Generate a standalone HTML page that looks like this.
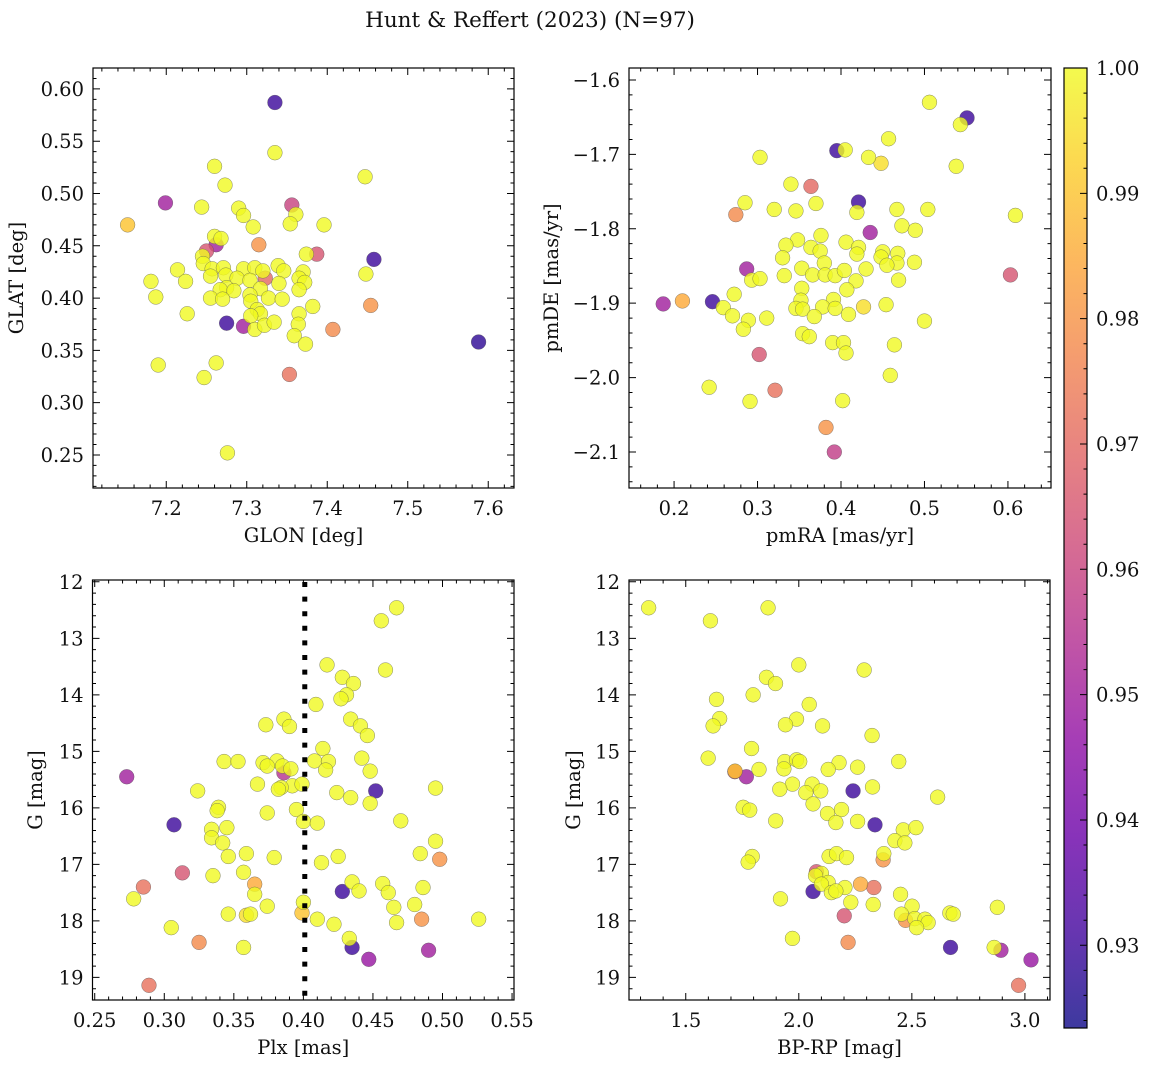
<!DOCTYPE html>
<html><head><meta charset="utf-8"><title>Hunt & Reffert (2023)</title>
<style>
html,body{margin:0;padding:0;background:#fff;}
svg{display:block;font-family:"DejaVu Serif","Liberation Serif",serif;}
</style></head>
<body>
<svg id="fig" width="1149" height="1067" viewBox="0 0 1149 1067" xmlns="http://www.w3.org/2000/svg">
<text x="530" y="27" text-anchor="middle" font-size="21.5" fill="#111">Hunt &amp; Reffert (2023) (N=97)</text>
</svg>
<script>
// ---- Panel 1: GLON vs GLAT ----
var p1Glon=[7.335,7.335,7.260,7.273,7.447,7.199,7.356,7.244,7.290,7.296,7.361,7.354,7.152,7.308,7.396,7.315,7.260,7.268,7.262,7.250,7.245,7.374,7.387,7.458,7.246,7.214,7.257,7.255,7.271,7.274,7.296,7.310,7.320,7.339,7.346,7.370,7.365,7.372,7.448,7.181,7.224,7.288,7.304,7.323,7.340,7.275,7.267,7.284,7.317,7.365,7.187,7.255,7.270,7.304,7.305,7.327,7.344,7.382,7.226,7.313,7.317,7.365,7.305,7.454,7.275,7.296,7.310,7.322,7.334,7.364,7.359,7.407,7.373,7.588,7.190,7.262,7.247,7.353,7.276];
var p1Glat=[0.587,0.539,0.526,0.508,0.516,0.491,0.489,0.487,0.486,0.479,0.480,0.471,0.470,0.468,0.470,0.451,0.459,0.457,0.451,0.445,0.440,0.442,0.442,0.437,0.433,0.427,0.428,0.421,0.429,0.422,0.428,0.429,0.426,0.431,0.426,0.425,0.419,0.415,0.423,0.416,0.416,0.419,0.417,0.419,0.414,0.410,0.408,0.407,0.409,0.408,0.401,0.400,0.399,0.403,0.397,0.400,0.399,0.392,0.385,0.389,0.385,0.385,0.383,0.393,0.376,0.373,0.370,0.374,0.377,0.375,0.364,0.370,0.356,0.358,0.336,0.338,0.324,0.327,0.252];
var p1Prob=[.93,1,1,1,1,.95,.96,1,1,1, 1,1,.99,1,1,.98,1,1,.95,.965, 1,1,.965,.93,1,1,1,1,1,1, 1,1,1,1,1,1,1,1,1,1, 1,1,1,.97,1,1,1,1,1,1, 1,1,1,1,1,1,1,1,1,1, 1,1,1,.98,.93,.95,1,1,1,1, 1,.978,1,.928,1,1,1,.972,1];
// ---- Panel 2: pmRA vs pmDE ----
var p2Pmra=[0.506,0.551,0.543,0.457,0.395,0.405,0.303,0.433,0.448,0.538,0.340,0.364,0.285,0.320,0.346,0.370,0.274,0.421,0.419,0.467,0.504,0.609,0.473,0.489,0.435,0.376,0.348,0.334,0.364,0.375,0.406,0.421,0.419,0.450,0.448,0.468,0.467,0.330,0.380,0.455,0.488,0.353,0.287,0.332,0.366,0.381,0.393,0.404,0.430,0.293,0.303,0.418,0.469,0.603,0.353,0.407,0.272,0.187,0.210,0.246,0.352,0.391,0.259,0.346,0.354,0.378,0.393,0.427,0.454,0.270,0.289,0.311,0.368,0.409,0.283,0.500,0.354,0.362,0.390,0.403,0.406,0.464,0.302,0.459,0.242,0.321,0.291,0.402,0.382,0.392];
var p2Pmde=[-1.630,-1.651,-1.660,-1.679,-1.695,-1.694,-1.704,-1.704,-1.712,-1.716,-1.740,-1.743,-1.765,-1.774,-1.776,-1.766,-1.781,-1.764,-1.778,-1.774,-1.774,-1.782,-1.796,-1.802,-1.805,-1.809,-1.815,-1.822,-1.825,-1.830,-1.818,-1.825,-1.834,-1.831,-1.838,-1.833,-1.846,-1.839,-1.846,-1.849,-1.845,-1.853,-1.854,-1.863,-1.862,-1.862,-1.863,-1.856,-1.854,-1.869,-1.867,-1.870,-1.869,-1.862,-1.880,-1.882,-1.888,-1.901,-1.897,-1.898,-1.896,-1.895,-1.906,-1.907,-1.908,-1.905,-1.907,-1.905,-1.902,-1.917,-1.923,-1.920,-1.918,-1.915,-1.935,-1.924,-1.941,-1.945,-1.953,-1.953,-1.967,-1.956,-1.969,-1.997,-2.013,-2.017,-2.032,-2.031,-2.067,-2.100];
var p2Prob=[1,.93,1,1,.93,1,1,1,.995,1, 1,.97,1,1,1,1,.978,.93,1,1, 1,1,1,1,.95,1,1,1,1,1, 1,1,1,1,1,1,1,1,1,1, 1,1,.95,1,1,1,1,1,1,1, 1,1,1,.965,1,1,1,.95,.985,.93, 1,1,1,1,1,1,1,.995,1,1, 1,1,1,1,1,1,1,1,1,1, 1,1,.965,1,1,.972,1,1,.98,.958];
// ---- Panel 3: Plx vs G ----
var p3Plx=[0.467,0.456,0.417,0.459,0.428,0.436,0.431,0.427,0.409,0.386,0.373,0.390,0.434,0.441,0.446,0.414,0.343,0.353,0.371,0.381,0.408,0.418,0.442,0.374,0.385,0.391,0.386,0.416,0.448,0.273,0.367,0.392,0.399,0.384,0.382,0.324,0.424,0.434,0.452,0.495,0.448,0.339,0.338,0.395,0.374,0.307,0.400,0.410,0.470,0.334,0.345,0.334,0.342,0.495,0.346,0.359,0.379,0.425,0.413,0.484,0.498,0.313,0.335,0.357,0.365,0.365,0.435,0.457,0.461,0.486,0.285,0.278,0.428,0.440,0.374,0.480,0.465,0.400,0.399,0.346,0.359,0.362,0.410,0.422,0.467,0.485,0.526,0.305,0.325,0.357,0.433,0.435,0.490,0.447,0.289];
var p3G=[12.46,12.69,13.47,13.56,13.69,13.80,14.00,14.07,14.17,14.43,14.53,14.56,14.43,14.55,14.72,14.95,15.18,15.18,15.20,15.17,15.17,15.18,15.12,15.26,15.26,15.31,15.38,15.33,15.35,15.45,15.58,15.61,15.58,15.64,15.67,15.70,15.73,15.82,15.70,15.65,15.92,15.99,16.05,16.03,16.09,16.30,16.24,16.27,16.23,16.38,16.35,16.53,16.62,16.59,16.86,16.81,16.88,16.86,16.97,16.81,16.91,17.15,17.20,17.14,17.35,17.53,17.31,17.34,17.50,17.41,17.40,17.61,17.48,17.47,17.74,17.71,17.76,17.67,17.86,17.88,17.90,17.88,17.97,18.06,18.03,17.97,17.97,18.12,18.38,18.47,18.31,18.47,18.52,18.68,19.14];
var p3Prob=[1,1,1,1,1,1,1,1,1,1, 1,1,1,1,1,1,1,1,1,1, 1,1,1,1,1,1,.955,1,1,.95, 1,1,1,1,1,1,1,1,.93,1, 1,1,1,1,1,.93,1,1,1,1, 1,1,1,1,1,1,1,1,1,1, .98,.965,1,1,.985,1,1,1,1,1, .972,1,.93,1,1,1,1,1,.99,1, .995,1,1,1,1,.98,1,1,.978,1, 1,.93,.95,.948,.972];
var p3CutPlx=[0.401];
// ---- Panel 4: BP-RP vs G ----
var p4Bprp=[1.336,1.864,1.609,2.000,2.289,1.857,1.897,1.798,1.636,2.046,1.650,1.990,1.621,1.941,2.105,2.324,1.791,1.599,1.938,1.990,2.004,2.178,2.442,2.260,2.130,1.824,1.934,1.717,1.718,1.768,1.972,2.059,1.916,2.031,2.097,2.326,2.240,2.614,2.063,1.754,1.783,2.127,2.189,1.898,2.164,2.260,2.337,2.462,2.518,2.425,2.469,2.376,2.373,2.134,2.167,2.211,1.794,1.776,2.078,2.100,2.074,2.130,2.100,2.273,2.332,2.204,2.063,2.144,2.164,2.450,1.919,2.230,2.329,2.501,2.878,2.668,2.683,2.454,2.472,2.513,2.558,2.572,2.521,2.201,1.972,2.218,2.671,2.864,2.894,3.027,2.972];
var p4G=[12.46,12.46,12.69,13.47,13.56,13.69,13.80,14.00,14.08,14.17,14.42,14.43,14.55,14.53,14.55,14.72,14.95,15.12,15.18,15.15,15.18,15.20,15.18,15.28,15.32,15.32,15.31,15.36,15.35,15.45,15.58,15.58,15.67,15.73,15.70,15.63,15.70,15.81,15.93,15.99,16.04,16.10,16.03,16.23,16.26,16.24,16.30,16.39,16.35,16.58,16.62,16.81,16.92,16.86,16.81,16.88,16.86,16.96,17.13,17.16,17.20,17.32,17.35,17.35,17.41,17.41,17.48,17.50,17.47,17.53,17.61,17.67,17.71,17.74,17.76,17.86,17.88,17.88,17.99,17.96,17.97,18.03,18.12,17.91,18.31,18.38,18.47,18.47,18.52,18.69,19.14];
var p4Prob=[1,1,1,1,1,1,1,1,1,1, 1,1,1,1,1,1,1,1,1,1, 1,1,1,1,1,1,1,.965,.99,.95, 1,1,1,1,1,1,.93,1,1,1, 1,1,1,1,1,1,.93,1,1,1, 1,1,.98,1,1,1,1,1,.965,1, 1,1,1,.985,.972,1,.93,1,1,1, 1,1,1,1,1,1,1,1,.98,1, 1,1,1,.965,1,.978,.93,1,.95,.948, .972];
// ---- Tick label arrays ----
var p1XTicks=[7.2,7.3,7.4,7.5,7.6];
var p1YTicks=[0.25,0.30,0.35,0.40,0.45,0.50,0.55,0.60];
var p2XTicks=[0.2,0.3,0.4,0.5,0.6];
var p2YTicks=[-2.1,-2.0,-1.9,-1.8,-1.7,-1.6];
var p3XTicks=[0.25,0.30,0.35,0.40,0.45,0.50,0.55];
var gTicks=[12,13,14,15,16,17,18,19];
var p4XTicks=[1.5,2.0,2.5,3.0];
var cbTicks=[0.93,0.94,0.95,0.96,0.97,0.98,0.99,1.00];
var VMIN=0.9234, VMAX=1.0;

var NS="http://www.w3.org/2000/svg";
var FS=19.5;
var svg=document.getElementById('fig');
function mk(tag,attrs,parent){var e=document.createElementNS(NS,tag);for(var k in attrs)e.setAttribute(k,attrs[k]);(parent||svg).appendChild(e);return e;}
var stops=[[13,8,135],[65,4,157],[106,0,168],[143,13,164],[177,42,144],[204,71,120],[225,100,98],[242,132,75],[252,166,54],[252,206,37],[240,249,33]];
function plasma(t){t=Math.max(0,Math.min(1,t));var f=t*10,i=Math.min(9,Math.floor(f)),u=f-i,a=stops[i],b=stops[i+1];
 return 'rgb('+Math.round(a[0]+(b[0]-a[0])*u)+','+Math.round(a[1]+(b[1]-a[1])*u)+','+Math.round(a[2]+(b[2]-a[2])*u)+')';}
function fmt(v,d){var s=Math.abs(v).toFixed(d);return (v<0?'\u2212':'')+s;}

function panel(cfg){
 var g=mk('g',{});
 
 
 var sx=function(v){return cfg.x0+(v-cfg.xr[0])/(cfg.xr[1]-cfg.xr[0])*(cfg.x1-cfg.x0);};
 var sy=cfg.yinv?function(v){return cfg.y0+(v-cfg.yr[0])/(cfg.yr[1]-cfg.yr[0])*(cfg.y1-cfg.y0);}
                 :function(v){return cfg.y1-(v-cfg.yr[0])/(cfg.yr[1]-cfg.yr[0])*(cfg.y1-cfg.y0);};
 var idx=cfg.xs.map(function(_,i){return i;});
 idx.sort(function(a,b){return cfg.ps[a]-cfg.ps[b];});
 var pg=mk('g',{},g);
 
 
 idx.forEach(function(i){
  var c=mk('circle',{cx:sx(cfg.xs[i]).toFixed(2),cy:sy(cfg.ys[i]).toFixed(2),r:7.4,fill:plasma((cfg.ps[i]-VMIN)/(VMAX-VMIN)),'fill-opacity':0.8,stroke:'#555','stroke-width':0.5,'stroke-opacity':0.7},pg);
  
  
 });
 if(cfg.vline){cfg.vline.forEach(function(v){
  var l=mk('line',{x1:sx(v),x2:sx(v),y1:cfg.y0+2,y2:cfg.y1,stroke:'#000','stroke-width':5,'stroke-dasharray':'5 9.6'},g);
  
  
 });}
 var fr=mk('rect',{x:cfg.x0,y:cfg.y0,width:cfg.x1-cfg.x0,height:cfg.y1-cfg.y0,fill:'none',stroke:'#000','stroke-width':1.2},g);
 
 
 var tk='';
 var EPS=1e-9;
 for(var v=Math.ceil(cfg.xr[0]/cfg.xmin-EPS)*cfg.xmin; v<=cfg.xr[1]+EPS; v+=cfg.xmin){var X=sx(v);tk+='M'+X+' '+cfg.y1+'v-3.5M'+X+' '+cfg.y0+'v3.5';}
 var ylo=Math.min(cfg.yr[0],cfg.yr[1]),yhi=Math.max(cfg.yr[0],cfg.yr[1]);
 for(var v=Math.ceil(ylo/cfg.ymin-EPS)*cfg.ymin; v<=yhi+EPS; v+=cfg.ymin){var Y=sy(v);tk+='M'+cfg.x0+' '+Y+'h3.5M'+cfg.x1+' '+Y+'h-3.5';}
 cfg.xt.forEach(function(v){var X=sx(v);tk+='M'+X+' '+cfg.y1+'v-7M'+X+' '+cfg.y0+'v7';});
 cfg.yt.forEach(function(v){var Y=sy(v);tk+='M'+cfg.x0+' '+Y+'h7M'+cfg.x1+' '+Y+'h-7';});
 var tp=mk('path',{d:tk,stroke:'#000','stroke-width':1,fill:'none'},g);
 
 
 cfg.xt.forEach(function(v){
  var t=mk('text',{x:sx(v),y:cfg.y1+27,'text-anchor':'middle','font-size':FS,fill:'#111'},g);t.textContent=fmt(v,cfg.xd);
  
  
 });
 cfg.yt.forEach(function(v){
  var t=mk('text',{x:cfg.x0-9,y:sy(v)+7,'text-anchor':'end','font-size':FS,fill:'#111'},g);t.textContent=fmt(v,cfg.yd);
  
  
 });
 var xl=mk('text',{x:(cfg.x0+cfg.x1)/2,y:cfg.y1+54,'text-anchor':'middle','font-size':FS,fill:'#111'},g);xl.textContent=cfg.xlab;
 
 
 var yl=mk('text',{x:0,y:0,'text-anchor':'middle','font-size':FS,fill:'#111',transform:'translate('+cfg.ylx+','+((cfg.y0+cfg.y1)/2)+') rotate(-90)'},g);yl.textContent=cfg.ylab;
 
 
}

panel({name:'glon-glat-panel',x0:93,x1:514,y0:68,y1:488,xr:[7.109,7.632],yr:[0.2184,0.620],xs:p1Glon,ys:p1Glat,ps:p1Prob,xt:p1XTicks,yt:p1YTicks,xmin:0.02,ymin:0.01,xd:1,yd:2,xlab:'GLON [deg]',ylab:'GLAT [deg]',ylx:23});
panel({name:'pm-panel',x0:629,x1:1051,y0:68,y1:488,xr:[0.146,0.6516],yr:[-2.1484,-1.5839],xs:p2Pmra,ys:p2Pmde,ps:p2Prob,xt:p2XTicks,yt:p2YTicks,xmin:0.02,ymin:0.02,xd:1,yd:1,xlab:'pmRA [mas/yr]',ylab:'pmDE [mas/yr]',ylx:558});
panel({name:'plx-g-panel',x0:92.5,x1:514,y0:580,y1:1000,xr:[0.2484,0.5514],yr:[11.968,19.40],yinv:true,xs:p3Plx,ys:p3G,ps:p3Prob,xt:p3XTicks,yt:gTicks,xmin:0.01,ymin:0.2,xd:2,yd:0,xlab:'Plx [mas]',ylab:'G [mag]',ylx:42,vline:p3CutPlx});
panel({name:'cmd-panel',x0:629,x1:1050,y0:580,y1:1000,xr:[1.249,3.111],yr:[11.968,19.40],yinv:true,xs:p4Bprp,ys:p4G,ps:p4Prob,xt:p4XTicks,yt:gTicks,xmin:0.1,ymin:0.2,xd:1,yd:0,xlab:'BP-RP [mag]',ylab:'G [mag]',ylx:580});

(function(){
 var cx0=1064,cx1=1087,cy0=68,cy1=1028;
 var g=mk('g',{});
 
 
 var defs=mk('defs',{},g);
 var lg=mk('linearGradient',{id:'cbgrad',x1:0,y1:1,x2:0,y2:0},defs);
 for(var i=0;i<=10;i++){mk('stop',{offset:(i*10)+'%','stop-color':plasma(i/10),'stop-opacity':0.8},lg);}
 var r=mk('rect',{x:cx0,y:cy0,width:cx1-cx0,height:cy1-cy0,fill:'url(#cbgrad)',stroke:'#000','stroke-width':1.2},g);
 
 
 var sy=function(v){return cy1-(v-VMIN)/(VMAX-VMIN)*(cy1-cy0);};
 var d='';
 for(var v=0.924;v<=1.0001;v+=0.002){d+='M'+cx1+' '+sy(v)+'h-3.5';}
 cbTicks.forEach(function(v){d+='M'+cx1+' '+sy(v)+'h-7';});
 var p=mk('path',{d:d,stroke:'#000','stroke-width':1,fill:'none'},g);
 
 
 cbTicks.forEach(function(v){
  var t=mk('text',{x:cx1+9,y:sy(v)+7,'font-size':FS,fill:'#111'},g);t.textContent=v.toFixed(2);
  
  
 });
})();
</script>
</body></html>
